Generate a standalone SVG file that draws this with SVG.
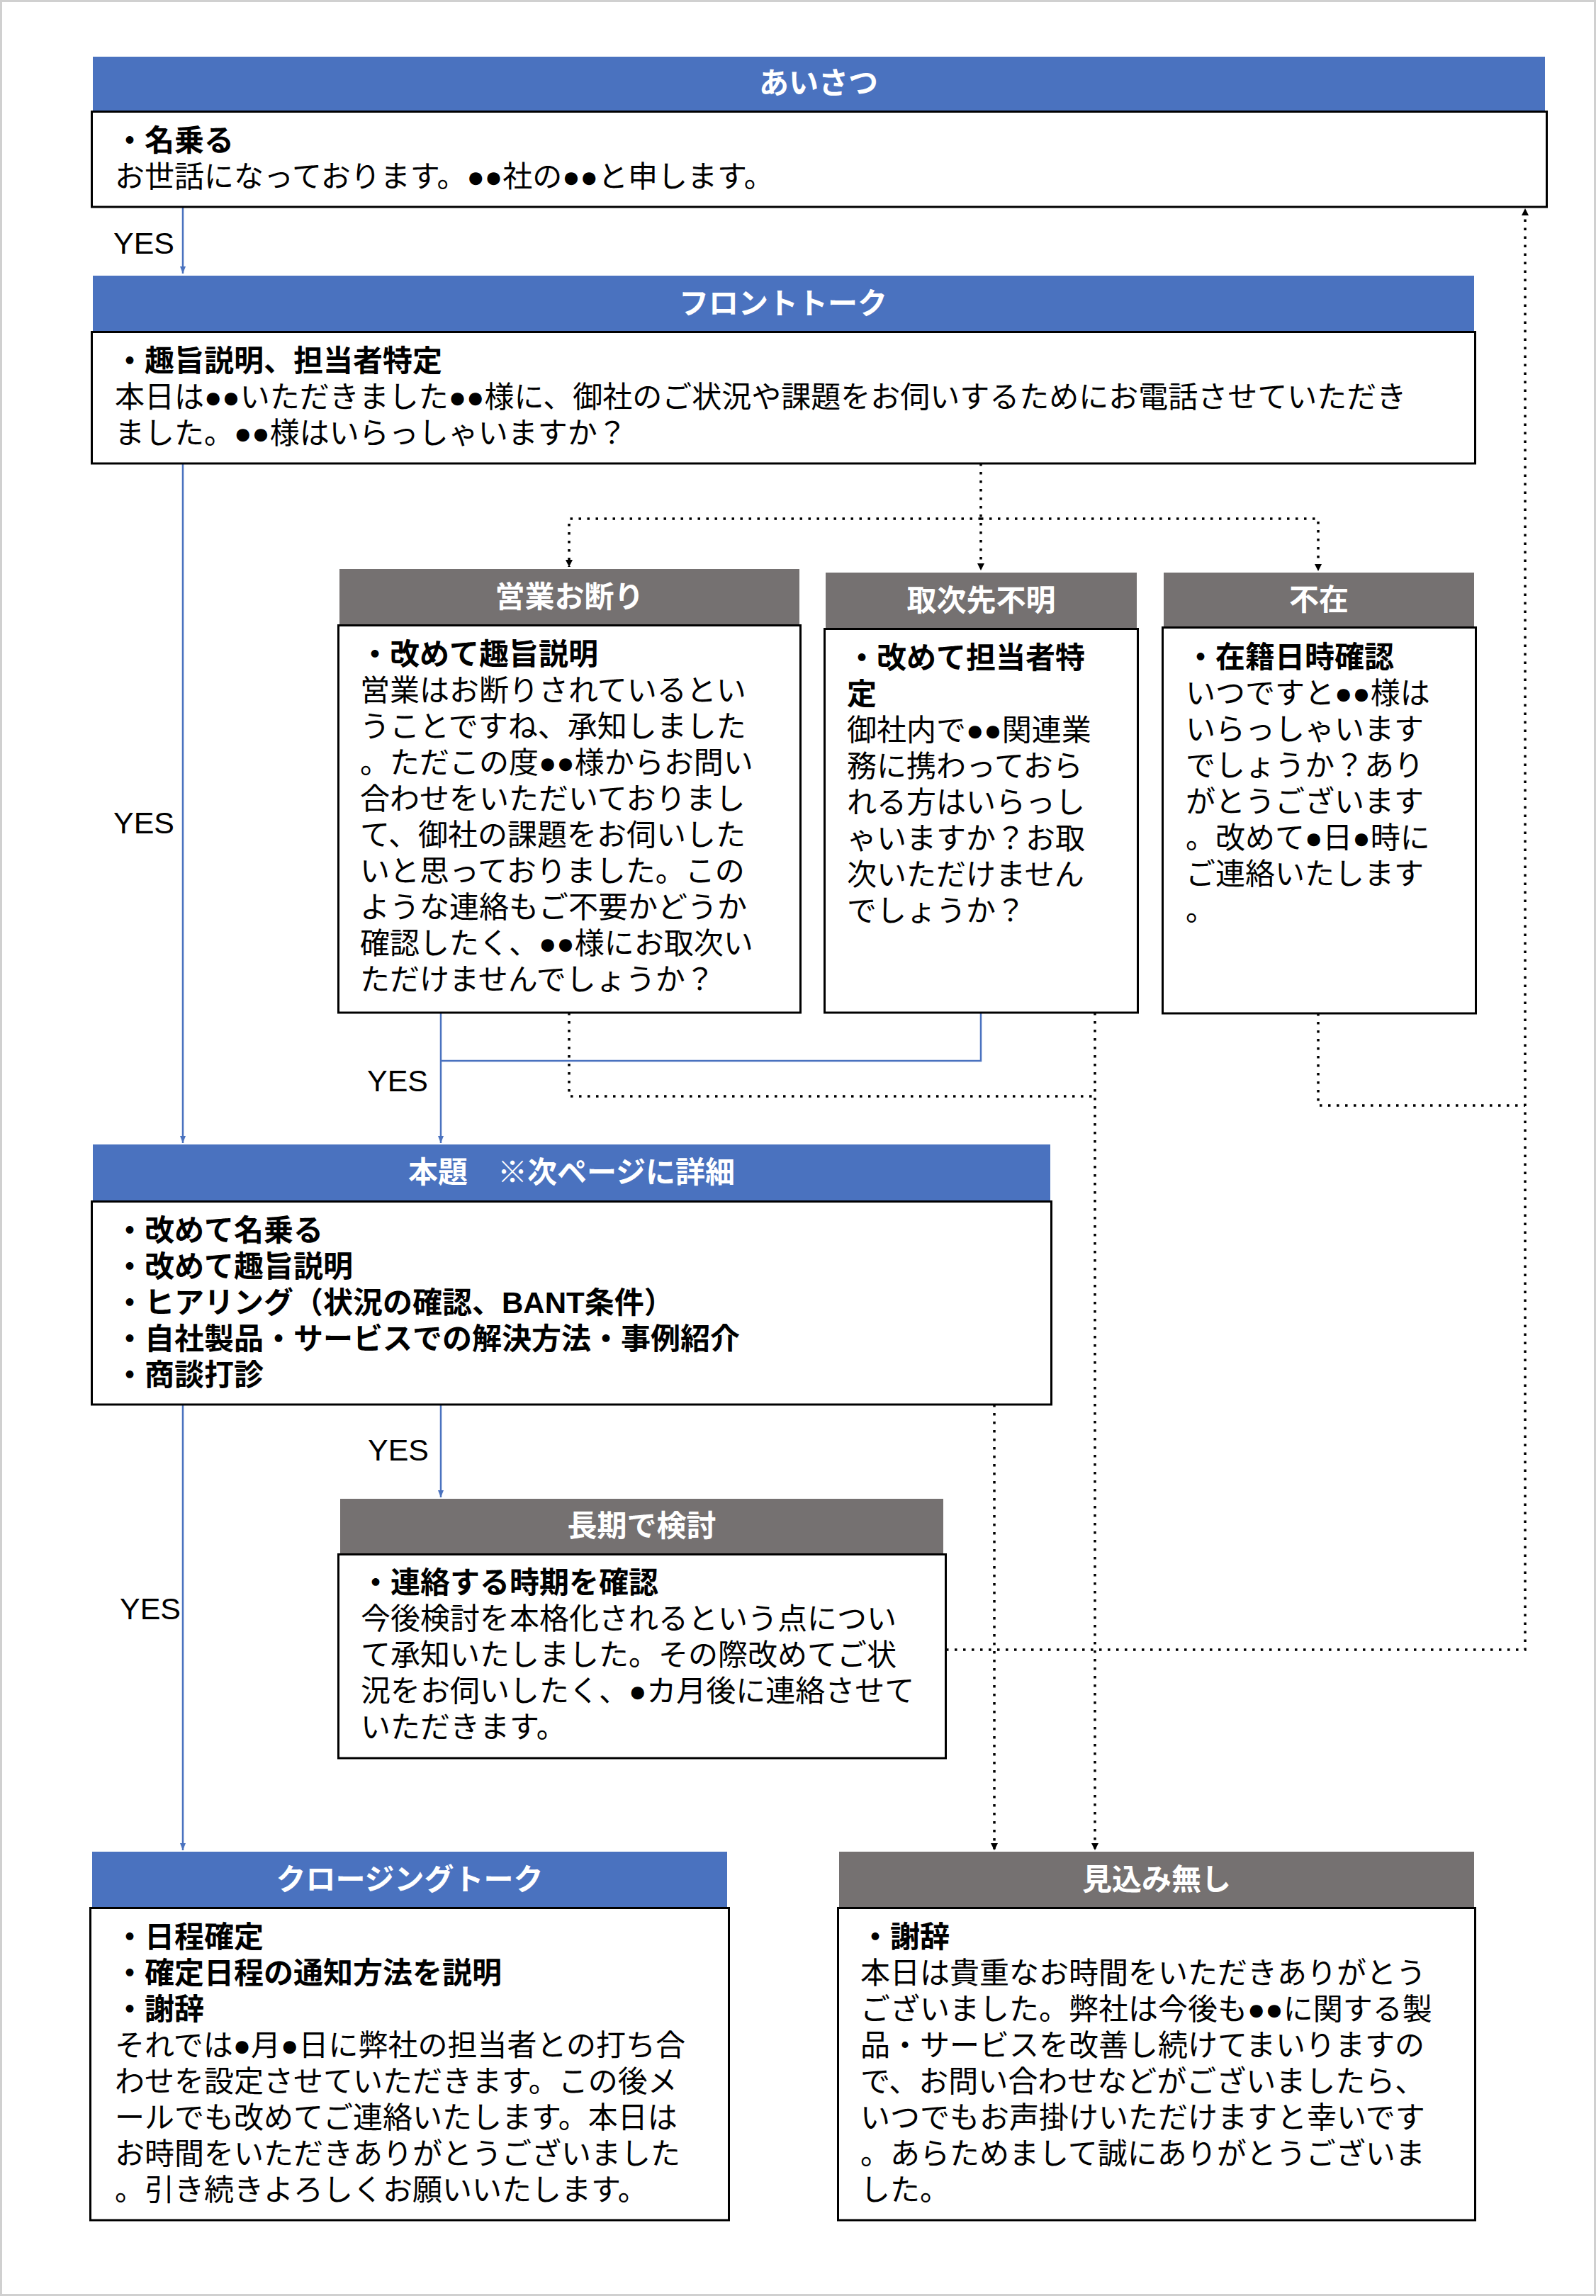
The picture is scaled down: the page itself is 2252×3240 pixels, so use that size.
<svg xmlns="http://www.w3.org/2000/svg" width="2252" height="3240" viewBox="0 0 2252 3240">
<style>
.hb{fill:#4a72bf}
.hg{fill:#757171}
.bd{fill:#fff;stroke:#000;stroke-width:3}
.ht{font-family:"Noto Sans CJK JP",sans-serif;font-size:42px;font-weight:bold;fill:#fff;text-anchor:middle}
.t{font-family:"Liberation Sans","Noto Sans CJK JP",sans-serif;font-size:42px;fill:#000}
.b{font-weight:bold}
.blue{stroke:#4a72bf;stroke-width:2.5;fill:none}
.dot{stroke:#000;stroke-width:3.5;stroke-dasharray:3.5 8.5;fill:none}
.yes{font-family:"Liberation Sans",sans-serif;font-size:43px;fill:#000}
</style>
<defs>
<marker id="ab" markerUnits="userSpaceOnUse" markerWidth="10" markerHeight="8" refX="10" refY="4" orient="auto"><path d="M0,0 L10,4 L0,8 z" fill="#4a72bf"/></marker>
<marker id="ak" markerUnits="userSpaceOnUse" markerWidth="10" markerHeight="10" refX="10" refY="5" orient="auto"><path d="M0,0 L10,5 L0,10 z" fill="#000"/></marker>
</defs>
<rect x="1.5" y="1.5" width="2249" height="3237" fill="#fff" stroke="#d0d0d0" stroke-width="3"/>

<g id="connectors">
<path class="blue" d="M258,292 V386" marker-end="url(#ab)"/>
<path class="blue" d="M258,654 V1613" marker-end="url(#ab)"/>
<path class="blue" d="M622,1429 V1613" marker-end="url(#ab)"/>
<path class="blue" d="M1384,1429 V1497 H622"/>
<path class="blue" d="M622,1982 V2113" marker-end="url(#ab)"/>
<path class="blue" d="M258,1982 V2611" marker-end="url(#ab)"/>
<path class="dot" d="M1384,654 V805" marker-end="url(#ak)"/>
<path class="dot" d="M1384,732 H803 V800" marker-end="url(#ak)"/>
<path class="dot" d="M1384,732 H1860 V806" marker-end="url(#ak)"/>
<path class="dot" d="M803,1429 V1547 H1545"/>
<path class="dot" d="M1545,1429 V2611" marker-end="url(#ak)"/>
<path class="dot" d="M1403,1982 V2611" marker-end="url(#ak)"/>
<path class="dot" d="M1860,1430 V1560 H2152"/>
<path class="dot" d="M1335,2328 H2152 V294" marker-end="url(#ak)"/>
<text class="yes" x="160" y="358">YES</text>
<text class="yes" x="160" y="1176">YES</text>
<text class="yes" x="518" y="1540">YES</text>
<text class="yes" x="519" y="2061">YES</text>
<text class="yes" x="169" y="2285">YES</text>
</g>

<g id="aisatsu">
<rect class="hb" x="131" y="80" width="2049" height="77"/>
<text class="ht" x="1155" y="132">あいさつ</text>
<rect class="bd" x="129.5" y="157.5" width="2053" height="134.5"/>
<text class="t b" x="162" y="213">・名乗る</text>
<text class="t" x="162" y="264">お世話になっております。●●社の●●と申します。</text>
</g>

<g id="front">
<rect class="hb" x="131" y="389" width="1949" height="79"/>
<text class="ht" x="1105" y="443">フロントトーク</text>
<rect class="bd" x="129.5" y="468.5" width="1952" height="185.5"/>
<text class="t b" x="162" y="524">・趣旨説明、担当者特定</text>
<text class="t" x="162" y="575">本日は●●いただきました●●様に、御社のご状況や課題をお伺いするためにお電話させていただき</text>
<text class="t" x="162" y="626">ました。●●様はいらっしゃいますか？</text>
</g>

<g id="eigyo">
<rect class="hg" x="479" y="803" width="649" height="79"/>
<text class="ht" x="803.5" y="857">営業お断り</text>
<rect class="bd" x="477.5" y="882.5" width="652" height="546.5"/>
<text class="t b" x="508" y="938">・改めて趣旨説明</text>
<text class="t" x="508" y="989">営業はお断りされているとい</text>
<text class="t" x="508" y="1040">うことですね、承知しました</text>
<text class="t" x="508" y="1091">。ただこの度●●様からお問い</text>
<text class="t" x="508" y="1142">合わせをいただいておりまし</text>
<text class="t" x="508" y="1193">て、御社の課題をお伺いした</text>
<text class="t" x="508" y="1244">いと思っておりました。この</text>
<text class="t" x="508" y="1295">ような連絡もご不要かどうか</text>
<text class="t" x="508" y="1346">確認したく、●●様にお取次い</text>
<text class="t" x="508" y="1397">ただけませんでしょうか？</text>
</g>

<g id="toritsugi">
<rect class="hg" x="1165" y="808" width="439" height="79"/>
<text class="ht" x="1384.5" y="862">取次先不明</text>
<rect class="bd" x="1163.5" y="887.5" width="442" height="541.5"/>
<text class="t b" x="1195" y="943">・改めて担当者特</text>
<text class="t b" x="1195" y="994">定</text>
<text class="t" x="1195" y="1045">御社内で●●関連業</text>
<text class="t" x="1195" y="1096">務に携わっておら</text>
<text class="t" x="1195" y="1147">れる方はいらっし</text>
<text class="t" x="1195" y="1198">ゃいますか？お取</text>
<text class="t" x="1195" y="1249">次いただけません</text>
<text class="t" x="1195" y="1300">でしょうか？</text>
</g>

<g id="fuzai">
<rect class="hg" x="1642" y="808" width="438" height="77"/>
<text class="ht" x="1861" y="861">不在</text>
<rect class="bd" x="1640.5" y="885.5" width="442" height="544.5"/>
<text class="t b" x="1673" y="942">・在籍日時確認</text>
<text class="t" x="1673" y="993">いつですと●●様は</text>
<text class="t" x="1673" y="1044">いらっしゃいます</text>
<text class="t" x="1673" y="1095">でしょうか？あり</text>
<text class="t" x="1673" y="1146">がとうございます</text>
<text class="t" x="1673" y="1197">。改めて●日●時に</text>
<text class="t" x="1673" y="1248">ご連絡いたします</text>
<text class="t" x="1673" y="1299">。</text>
</g>

<g id="hondai">
<rect class="hb" x="131" y="1615" width="1351" height="80"/>
<text class="ht" x="806.5" y="1669">本題　※次ページに詳細</text>
<rect class="bd" x="129.5" y="1695.5" width="1354" height="286.5"/>
<text class="t b" x="162" y="1751">・改めて名乗る</text>
<text class="t b" x="162" y="1802">・改めて趣旨説明</text>
<text class="t b" x="162" y="1853">・ヒアリング（状況の確認、BANT条件）</text>
<text class="t b" x="162" y="1904">・自社製品・サービスでの解決方法・事例紹介</text>
<text class="t b" x="162" y="1955">・商談打診</text>
</g>

<g id="choki">
<rect class="hg" x="480" y="2115" width="851" height="78"/>
<text class="ht" x="905.5" y="2168">長期で検討</text>
<rect class="bd" x="477.5" y="2193.5" width="857" height="287.5"/>
<text class="t b" x="509" y="2248">・連絡する時期を確認</text>
<text class="t" x="509" y="2299">今後検討を本格化されるという点につい</text>
<text class="t" x="509" y="2350">て承知いたしました。その際改めてご状</text>
<text class="t" x="509" y="2401">況をお伺いしたく、●カ月後に連絡させて</text>
<text class="t" x="509" y="2452">いただきます。</text>
</g>

<g id="closing">
<rect class="hb" x="130" y="2613" width="896" height="79"/>
<text class="ht" x="578" y="2667">クロージングトーク</text>
<rect class="bd" x="127.5" y="2692.5" width="901" height="440.5"/>
<text class="t b" x="162" y="2748">・日程確定</text>
<text class="t b" x="162" y="2799">・確定日程の通知方法を説明</text>
<text class="t b" x="162" y="2850">・謝辞</text>
<text class="t" x="162" y="2901">それでは●月●日に弊社の担当者との打ち合</text>
<text class="t" x="162" y="2952">わせを設定させていただきます。この後メ</text>
<text class="t" x="162" y="3003">ールでも改めてご連絡いたします。本日は</text>
<text class="t" x="162" y="3054">お時間をいただきありがとうございました</text>
<text class="t" x="162" y="3105">。引き続きよろしくお願いいたします。</text>
</g>

<g id="mikomi">
<rect class="hg" x="1184" y="2613" width="896" height="79"/>
<text class="ht" x="1632" y="2667">見込み無し</text>
<rect class="bd" x="1182.5" y="2692.5" width="899" height="440.5"/>
<text class="t b" x="1214" y="2748">・謝辞</text>
<text class="t" x="1214" y="2799">本日は貴重なお時間をいただきありがとう</text>
<text class="t" x="1214" y="2850">ございました。弊社は今後も●●に関する製</text>
<text class="t" x="1214" y="2901">品・サービスを改善し続けてまいりますの</text>
<text class="t" x="1214" y="2952">で、お問い合わせなどがございましたら、</text>
<text class="t" x="1214" y="3003">いつでもお声掛けいただけますと幸いです</text>
<text class="t" x="1214" y="3054">。あらためまして誠にありがとうございま</text>
<text class="t" x="1214" y="3105">した。</text>
</g>
</svg>
